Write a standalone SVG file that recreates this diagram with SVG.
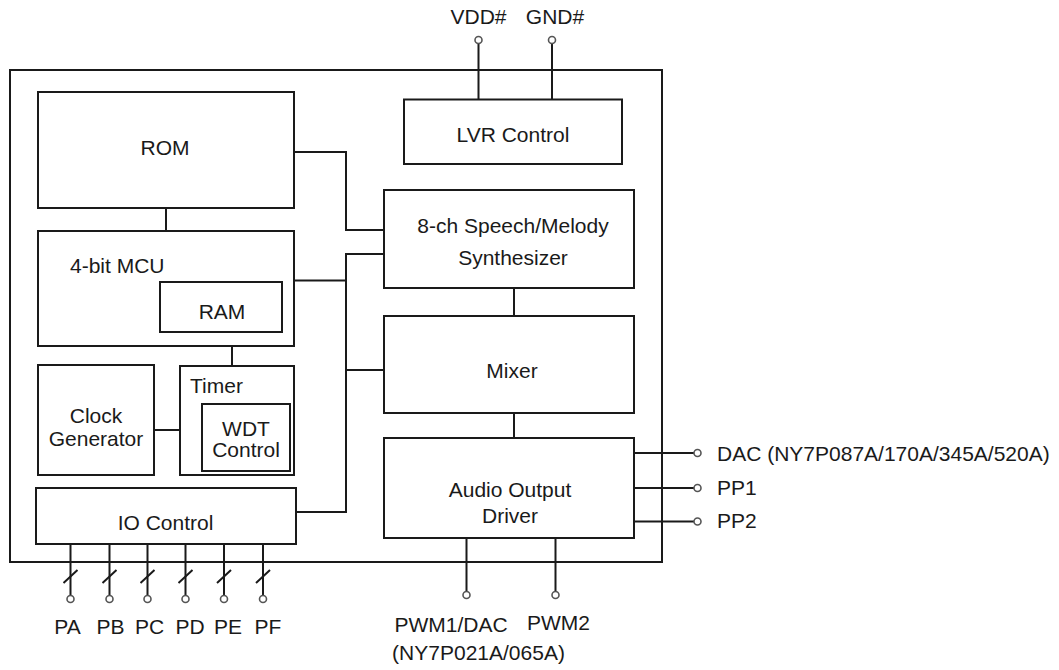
<svg xmlns="http://www.w3.org/2000/svg" width="1059" height="670" viewBox="0 0 1059 670">
<style>
.box{fill:#fff;stroke:#1a1a1a;stroke-width:2}
.ln{fill:none;stroke:#1a1a1a;stroke-width:2}
.pin{fill:#fff;stroke:#555;stroke-width:1.6}
text{font-family:"Liberation Sans",Arial,sans-serif;font-size:21px;fill:#1a1a1a}
.c{text-anchor:middle}
</style>
<rect width="1059" height="670" fill="#fff"/>
<g id="chip"><rect class="box" x="10" y="70" width="652" height="492"/></g>
<g id="connectors">
<path class="ln" d="M478.5 43.5V99.5M552 43.5V99.5"/>
<path class="ln" d="M166 208V231"/>
<path class="ln" d="M294 152H346V230H384"/>
<path class="ln" d="M384 254H346V512H296M294 280.5H346M346 370H384"/>
<path class="ln" d="M232 346V366"/>
<path class="ln" d="M154 430H180"/>
<path class="ln" d="M514 288V316M514 413V438"/>
<path class="ln" d="M634 453H694M634 488H694M634 521.5H694"/>
<path class="ln" d="M466.5 538V591.5M555.5 538V591.5"/>
<path class="ln" d="M70.5 544V595.5M109.5 544V595.5M147.5 544V595.5M185.5 544V595.5M224 544V595.5M263 544V595.5"/>
<path class="ln" stroke-width="1.5" d="M63.5 583L77.5 570M102.5 583L116.5 570M140.5 583L154.5 570M178.5 583L192.5 570M217 583L231 570M256 583L270 570"/>
</g>
<g id="pins">
<circle class="pin" cx="478.5" cy="40" r="3.5"/>
<circle class="pin" cx="552" cy="40" r="3.5"/>
<circle class="pin" cx="697.5" cy="453" r="3.5"/>
<circle class="pin" cx="697.5" cy="488" r="3.5"/>
<circle class="pin" cx="697.5" cy="521.5" r="3.5"/>
<circle class="pin" cx="466.5" cy="595" r="3.5"/>
<circle class="pin" cx="555.5" cy="595" r="3.5"/>
<circle class="pin" cx="70.5" cy="599" r="3.5"/>
<circle class="pin" cx="109.5" cy="599" r="3.5"/>
<circle class="pin" cx="147.5" cy="599" r="3.5"/>
<circle class="pin" cx="185.5" cy="599" r="3.5"/>
<circle class="pin" cx="224" cy="599" r="3.5"/>
<circle class="pin" cx="263" cy="599" r="3.5"/>
</g>
<g id="rom"><rect class="box" x="38" y="92" width="256" height="116"/><text class="c" x="165" y="155">ROM</text></g>
<g id="mcu"><rect class="box" x="38" y="231" width="256" height="115"/><text x="70" y="273">4-bit MCU</text></g>
<g id="ram"><rect class="box" x="160" y="282" width="122" height="50"/><text class="c" x="222" y="319">RAM</text></g>
<g id="clock"><rect class="box" x="38" y="365" width="116" height="110"/><text class="c" x="96" y="423">Clock</text><text class="c" x="96" y="446">Generator</text></g>
<g id="timer"><rect class="box" x="180" y="366" width="114" height="109"/><text x="190" y="393">Timer</text></g>
<g id="wdt"><rect class="box" x="202" y="404" width="88" height="67"/><text class="c" x="246" y="436">WDT</text><text class="c" x="246" y="457">Control</text></g>
<g id="io"><rect class="box" x="36" y="488" width="260" height="56"/><text class="c" x="165.5" y="530">IO Control</text></g>
<g id="lvr"><rect class="box" x="404" y="99.5" width="218" height="64.5"/><text class="c" x="513" y="141.5">LVR Control</text></g>
<g id="synth"><rect class="box" x="384" y="190" width="250" height="98"/><text class="c" x="513" y="233">8-ch Speech/Melody</text><text class="c" x="513" y="265">Synthesizer</text></g>
<g id="mixer"><rect class="box" x="384" y="316" width="250" height="97"/><text class="c" x="512" y="377.5">Mixer</text></g>
<g id="audio"><rect class="box" x="384" y="438" width="250" height="100"/><text class="c" x="510" y="497">Audio Output</text><text class="c" x="510" y="523">Driver</text></g>
<g id="labels">
<text class="c" x="478.5" y="24">VDD#</text>
<text class="c" x="555" y="24">GND#</text>
<text x="717" y="461">DAC (NY7P087A/170A/345A/520A)</text>
<text x="717" y="495">PP1</text>
<text x="717" y="528">PP2</text>
<text class="c" x="451" y="631.5">PWM1/DAC</text>
<text class="c" x="558.5" y="630">PWM2</text>
<text class="c" x="478.5" y="660">(NY7P021A/065A)</text>
<text class="c" x="67.5" y="634">PA</text>
<text class="c" x="110.5" y="634">PB</text>
<text class="c" x="149.5" y="634">PC</text>
<text class="c" x="190" y="634">PD</text>
<text class="c" x="228" y="634">PE</text>
<text class="c" x="268" y="634">PF</text>
</g>
</svg>
